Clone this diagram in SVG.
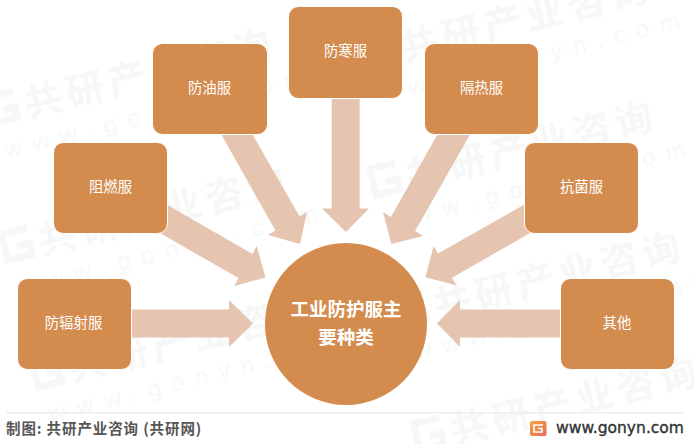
<svg xmlns="http://www.w3.org/2000/svg" width="694" height="444" viewBox="0 0 694 444">
<style>
.wm{font-family:"Noto Sans CJK SC",sans-serif;font-weight:700;font-size:38px;letter-spacing:5px;fill:#f7f7f7}
.wu{font-family:"Liberation Sans",sans-serif;font-size:24px;letter-spacing:11px;fill:#f8f8f8}
.wg{fill:none;stroke:#f7f7f7;stroke-width:7}
.box{fill:#D38C4E;stroke:#fff;stroke-width:1}
.lbl{font-family:"Noto Sans CJK SC",sans-serif;font-size:14.4px;fill:#fff;text-anchor:middle}
.ctr{font-family:"Noto Sans CJK SC",sans-serif;font-size:18.5px;font-weight:700;fill:#fff;text-anchor:middle}
.arr{fill:#E5C4B0}
</style>
<defs>
<linearGradient id="lg" x1="0" y1="0" x2="1" y2="1"><stop offset="0" stop-color="#F5A63B"/><stop offset="1" stop-color="#E8695A"/></linearGradient>
</defs>
<rect width="694" height="444" fill="#fff"/>
<g id="watermarks">
<g transform="translate(28,118) rotate(-14)"><text class="wm">共研产业咨询</text><text class="wu" x="-30" y="34">www.gonyn.com</text><path class="wg" d="M-8,-30H-34V-3H-10V-14H-22"/></g>
<g transform="translate(404,62) rotate(-14)"><text class="wm">共研产业咨询</text><text class="wu" x="-30" y="34">www.gonyn.com</text><path class="wg" d="M-8,-30H-34V-3H-10V-14H-22"/></g>
<g transform="translate(42,255) rotate(-14)"><text class="wm">共研产业咨询</text><text class="wu" x="-30" y="34">www.gonyn.com</text><path class="wg" d="M-8,-30H-34V-3H-10V-14H-22"/></g>
<g transform="translate(410,190) rotate(-14)"><text class="wm">共研产业咨询</text><text class="wu" x="-30" y="34">www.gonyn.com</text><path class="wg" d="M-8,-30H-34V-3H-10V-14H-22"/></g>
<g transform="translate(72,382) rotate(-14)"><text class="wm">共研产业咨询</text><text class="wu" x="-30" y="34">www.gonyn.com</text><path class="wg" d="M-8,-30H-34V-3H-10V-14H-22"/></g>
<g transform="translate(437,320) rotate(-14)"><text class="wm">共研产业咨询</text><text class="wu" x="-30" y="34">www.gonyn.com</text><path class="wg" d="M-8,-30H-34V-3H-10V-14H-22"/></g>
<g transform="translate(454,445) rotate(-14)"><text class="wm">共研产业咨询</text><path class="wg" d="M-8,-30H-34V-3H-10V-14H-22"/></g>
</g>
<g id="connectors">
<polygon class="arr" points="132,309.5 229,309.5 229,300 253,323.5 229,347 229,337.5 132,337.5"/>
<polygon class="arr" points="560,309.5 460,309.5 460,300 437,323.5 460,347 460,337.5 560,337.5"/>
<polygon class="arr" points="331.7,98 359.7,98 359.7,208.5 369,208.5 346,232 322,208.5 331.7,208.5"/>
<polygon class="arr" points="221,134 252.3,134 299.6,216.5 307,212 300,244 268,235 275.4,230.5"/>
<polygon class="arr" points="437.7,134 470.3,134 415.1,231 423,236 391.3,244 383,212 390.9,217"/>
<polygon class="arr" points="167,204.7 252.5,253.9 256.7,246 265.5,277.5 234.3,286 238.5,278.1 160,233"/>
<polygon class="arr" points="524,204.7 438,253.6 433.7,246 425.3,277.3 456.3,285.3 452,277.8 530,233"/>
</g>
<g id="node-fanghan"><rect class="box" x="288.5" y="6.5" width="114" height="92" rx="10"/><text class="lbl" x="345.5" y="56">防寒服</text></g>
<g id="node-fangyou"><rect class="box" x="152.5" y="43.5" width="115" height="91" rx="10"/><text class="lbl" x="209.5" y="93">防油服</text></g>
<g id="node-gere"><rect class="box" x="424.5" y="43.5" width="114" height="91" rx="10"/><text class="lbl" x="481.5" y="93">隔热服</text></g>
<g id="node-zuran"><rect class="box" x="53.5" y="142.5" width="114" height="91" rx="10"/><text class="lbl" x="110.5" y="192">阻燃服</text></g>
<g id="node-kangjun"><rect class="box" x="524.5" y="142.5" width="114" height="91" rx="10"/><text class="lbl" x="581.5" y="192">抗菌服</text></g>
<g id="node-fangfushe"><rect class="box" x="17.5" y="278.5" width="114" height="91" rx="10"/><text class="lbl" x="73.5" y="328">防辐射服</text></g>
<g id="node-qita"><rect class="box" x="560.5" y="278.5" width="114" height="91" rx="10"/><text class="lbl" x="617" y="328">其他</text></g>
<g id="node-center"><circle cx="346" cy="324" r="81" fill="#D38C4E"/><text class="ctr" x="346" y="316">工业防护服主</text><text class="ctr" x="346" y="344">要种类</text></g>
<g id="footer">
<rect x="6" y="412" width="678" height="1.5" fill="#eeeeee"/>
<text x="6" y="434" font-family="'Noto Sans CJK SC',sans-serif" font-size="14.5px" font-weight="700" fill="#555555" letter-spacing="0.9" xml:space="preserve">制图: 共研产业咨询 (共研网)</text>
<rect x="530" y="421" width="16.5" height="15" rx="2" fill="url(#lg)"/>
<path d="M543,425H534V432H542V428.5H538" fill="none" stroke="#fff" stroke-width="1.6"/>
<text x="556" y="433" font-family="'DejaVu Sans',sans-serif" font-size="15.2px" fill="#333333" stroke="#333333" stroke-width="0.35" textLength="128" lengthAdjust="spacingAndGlyphs">www.gonyn.com</text>
</g>
</svg>
